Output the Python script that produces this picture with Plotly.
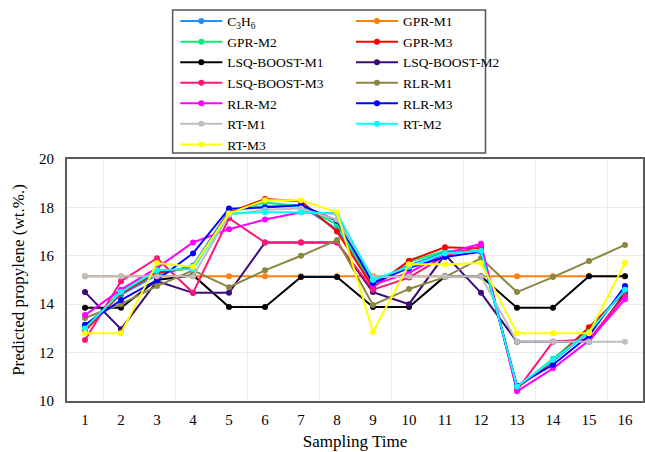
import plotly.graph_objects as go

sampling_time = list(range(1, 17))

c3h6 =        [13.1, 14.4, 15.2, 15.6, 17.85, 18.05, 18.05, 17.1, 14.9, 15.6, 16.15, 16.2, 10.6, 11.65, 12.85, 14.6]
gpr_m1 =      [15.15] * 16
gpr_m2 =      [13.0, 14.55, 15.35, 15.5, 17.8, 18.2, 18.05, 17.3, 14.75, 15.75, 16.2, 16.2, 10.55, 11.75, 12.95, 14.6]
gpr_m3 =      [12.9, 14.45, 15.3, 15.5, 17.8, 18.35, 18.25, 17.0, 14.7, 15.8, 16.35, 16.3, 10.55, 11.65, 13.05, 14.5]
lsq_m1 =      [13.85, 13.85, 15.0, 15.2, 13.88, 13.88, 15.12, 15.12, 13.88, 13.88, 15.15, 15.15, 13.85, 13.85, 15.15, 15.15]
lsq_m2 =      [14.5, 12.97, 14.95, 14.47, 14.47, 16.55, 16.55, 16.55, 14.5, 14.0, 16.05, 14.47, 12.45, 12.45, 12.45, 14.45]
lsq_m3 =      [12.52, 14.95, 15.9, 14.47, 17.55, 16.55, 16.55, 16.55, 14.6, 15.1, 16.0, 16.4, 10.45, 12.45, 12.55, 14.35]
rlr_m1 =      [13.43, 14.0, 14.75, 15.4, 14.7, 15.4, 16.0, 16.65, 13.97, 14.63, 15.12, 15.9, 14.5, 15.12, 15.78, 16.45]
rlr_m2 =      [13.55, 14.6, 15.5, 16.55, 17.1, 17.5, 17.8, 17.75, 14.8, 15.3, 16.1, 16.5, 10.4, 11.35, 12.5, 14.2]
rlr_m3 =      [13.15, 14.17, 15.0, 16.1, 17.95, 18.0, 18.1, 17.45, 14.88, 15.5, 15.95, 16.17, 10.63, 11.5, 12.7, 14.75]
rt_m1 =       [15.15, 15.15, 15.15, 15.15, 17.7, 17.9, 17.95, 17.5, 15.12, 15.15, 15.15, 15.15, 12.45, 12.45, 12.45, 12.45]
rt_m2 =       [13.0, 14.5, 15.4, 15.45, 17.75, 17.8, 17.8, 17.75, 15.0, 15.55, 16.1, 16.2, 10.6, 11.7, 12.85, 14.6]
rt_m3 =       [12.8, 12.8, 15.7, 15.55, 17.75, 18.3, 18.3, 17.8, 12.85, 15.65, 15.65, 15.7, 12.8, 12.8, 12.8, 15.7]

series = [
    ("C<sub>3</sub>H<sub>6</sub>", c3h6, "#1E8FFF", "legend"),
    ("GPR-M1", gpr_m1, "#FF7F0E", "legend2"),
    ("GPR-M2", gpr_m2, "#00EE76", "legend"),
    ("GPR-M3", gpr_m3, "#FF0000", "legend2"),
    ("LSQ-BOOST-M1", lsq_m1, "#000000", "legend"),
    ("LSQ-BOOST-M2", lsq_m2, "#3D0A7A", "legend2"),
    ("LSQ-BOOST-M3", lsq_m3, "#FF1478", "legend"),
    ("RLR-M1", rlr_m1, "#8B8640", "legend2"),
    ("RLR-M2", rlr_m2, "#FF00FF", "legend"),
    ("RLR-M3", rlr_m3, "#0000FF", "legend2"),
    ("RT-M1", rt_m1, "#BDBDBD", "legend"),
    ("RT-M2", rt_m2, "#00FFFF", "legend2"),
    ("RT-M3", rt_m3, "#FFFF00", "legend"),
]

fig = go.Figure()
for name, vals, color, leg in series:
    fig.add_trace(go.Scatter(
        x=sampling_time, y=vals, name=name, mode="lines+markers",
        line=dict(color=color, width=2),
        marker=dict(color=color, size=6),
        legend=leg,
    ))

serif = "Liberation Serif"
leg_common = dict(
    yanchor="top", xanchor="left", y=1.633,
    bgcolor="rgba(0,0,0,0)", borderwidth=0,
    font=dict(family=serif, size=13.5, color="black"),
    itemwidth=42, orientation="v", tracegroupgap=0,
)

fig.update_layout(
    width=645, height=452,
    margin=dict(l=67, r=0, t=159, b=51),
    paper_bgcolor="white", plot_bgcolor="white",
    font=dict(family=serif, color="black"),
    showlegend=True,
    legend=dict(x=0.188, **leg_common),
    legend2=dict(x=0.493, **leg_common),
    xaxis=dict(
        range=[0.5, 16.5], tickvals=sampling_time, showgrid=False, zeroline=False,
        showline=True, mirror=True, linecolor="#5a5a5a", linewidth=2,
        ticks="", ticklabelstandoff=4,
        tickfont=dict(family=serif, size=15, color="black"),
        title=dict(text="Sampling Time", font=dict(family=serif, size=17, color="black"), standoff=8),
        minor=dict(tickvals=[1.5, 3.5, 5.5, 7.5, 9.5, 11.5, 13.5, 15.5], showgrid=True,
                   gridcolor="#ebebeb", gridwidth=1, ticks=""),
    ),
    yaxis=dict(
        range=[10, 20], dtick=2, showgrid=True, gridcolor="#ebebeb", gridwidth=1, zeroline=False,
        showline=True, mirror=True, linecolor="#5a5a5a", linewidth=2,
        ticks="", ticklabelstandoff=8,
        tickfont=dict(family=serif, size=15, color="black"),
        title=dict(text="Predicted propylene (wt.%.)", font=dict(family=serif, size=17, color="black"), standoff=10),
    ),
    shapes=[dict(type="rect", xref="paper", yref="paper",
                 x0=0.1834, x1=0.7266, y0=1.0248, y1=1.6157,
                 line=dict(color="#555555", width=1.5), fillcolor="rgba(0,0,0,0)", layer="above")],
)

fig.write_html("out.html")
